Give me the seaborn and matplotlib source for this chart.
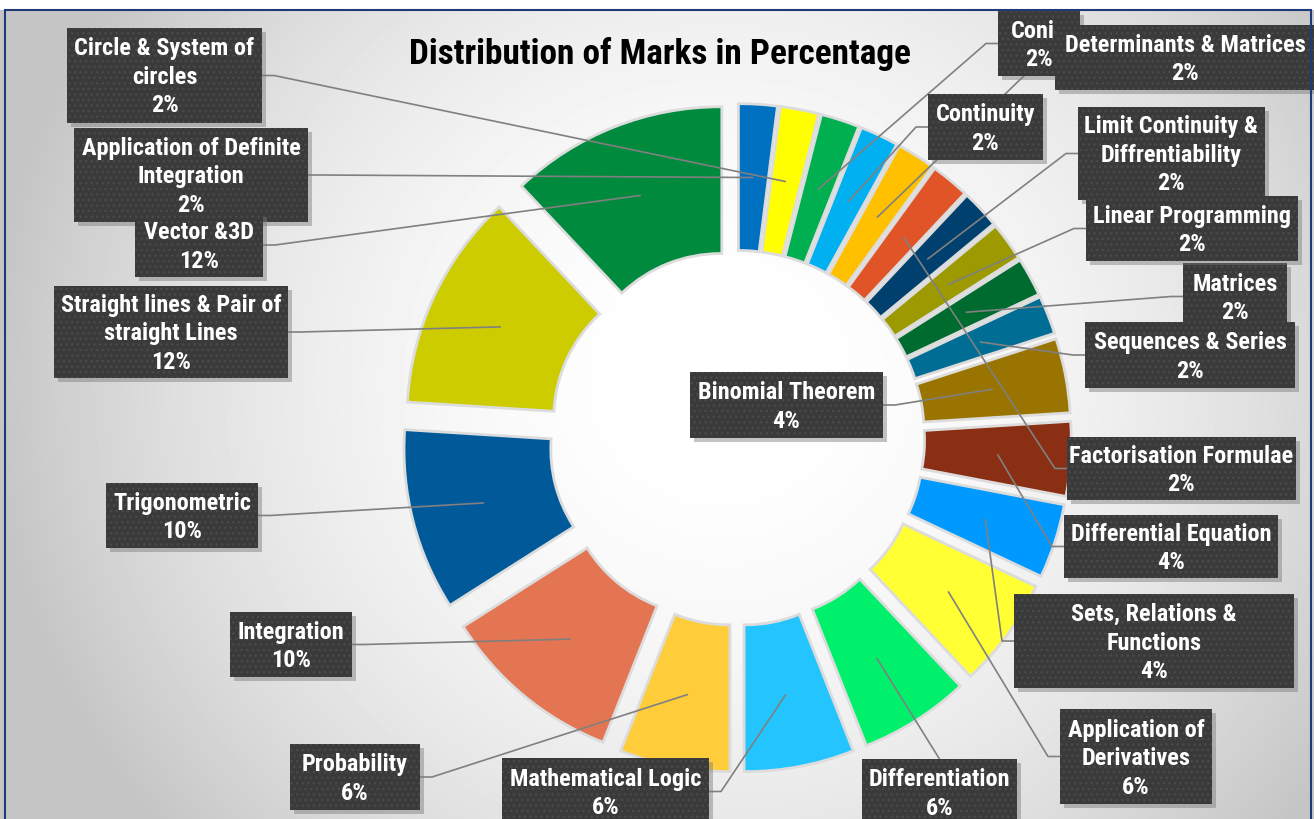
import numpy as np
import matplotlib
matplotlib.use("Agg")
import matplotlib.pyplot as plt
import matplotlib.patheffects as pe
from matplotlib import font_manager
from matplotlib.font_manager import FontProperties
from matplotlib.patches import Rectangle
import seaborn as sns

# slices, clockwise from 12 o'clock
topics = ["Application of Definite\nIntegration", "Circle & System of\ncircles", "Conic",
          "Continuity", "Determinants & Matrices", "Factorisation Formulae",
          "Limit Continuity &\nDiffrentiability", "Linear Programming", "Matrices",
          "Sequences & Series", "Binomial Theorem", "Differential Equation",
          "Sets, Relations &\nFunctions", "Application of\nDerivatives", "Differentiation",
          "Mathematical Logic", "Probability", "Integration", "Trigonometric",
          "Straight lines & Pair of\nstraight Lines", "Vector &3D"]
marks = [2, 2, 2, 2, 2, 2, 2, 2, 2, 2, 4, 4, 4, 6, 6, 6, 6, 10, 10, 12, 12]
slice_colors = ["#0070C0", "#FFFF00", "#00B050", "#00B0F0", "#FFC000", "#E05428",
                "#00406F", "#9C9A00", "#006B2F", "#006E94", "#9A7400", "#8A2E14",
                "#0099FF", "#FFFF33", "#00F06B", "#24C4FF", "#FFCC3A", "#E47552",
                "#005A9A", "#CCCC00", "#008A3E"]
title = "Distribution of Marks in Percentage"

# layout (image pixels)
W, H = 1314, 819
CX, CY, R_PX = 737, 438, 288
EXPLODE_PX = 45

# label box per slice: (x0, y0, x1, y1), side where the leader line attaches
boxes = {
    0: ((74, 128, 308, 222), "right"),
    1: ((67, 28, 262, 123), "right"),
    2: ((998, 11, 1080, 76), "left"),
    3: ((928, 94, 1043, 160), "left"),
    4: ((1055, 25, 1316, 90), "left"),
    5: ((1067, 437, 1296, 500), "left"),
    6: ((1078, 107, 1265, 200), "left"),
    7: ((1086, 196, 1298, 261), "left"),
    8: ((1183, 263, 1287, 330), "left"),
    9: ((1085, 322, 1295, 388), "left"),
    10: ((690, 372, 883, 438), "right"),
    11: ((1064, 515, 1278, 578), "left"),
    12: ((1014, 594, 1294, 688), "left"),
    13: ((1060, 709, 1212, 804), "left"),
    14: ((862, 759, 1017, 825), "top"),
    15: ((502, 758, 709, 825), "right"),
    16: ((290, 744, 420, 810), "right"),
    17: ((230, 612, 352, 677), "right"),
    18: ((106, 483, 258, 548), "right"),
    19: ((54, 286, 288, 378), "right"),
    20: ((135, 213, 263, 277), "right"),
}
draw_order = [1, 0, 20, 19, 18, 17, 16, 15, 14, 13, 12, 11, 5, 10, 8, 9, 6, 7, 3, 2, 4]


def dx(x):
    return (x - CX) / R_PX


def dy(y):
    return (CY - y) / R_PX


def pick_font():
    prefs = ["LiberationSansNarrow-Bold", "RobotoCondensed-Bold", "DejaVuSansCondensed-Bold"]
    files = [f.fname for f in font_manager.fontManager.ttflist]
    for p in prefs:
        for fn in files:
            if p.lower() in fn.lower().replace(" ", "") and "italic" not in fn.lower():
                return FontProperties(fname=fn)
    return FontProperties(family="Roboto", weight="bold")


sns.set_theme(style="white")
fig = plt.figure(figsize=(W / 100, H / 100), dpi=100)
ax = fig.add_axes([0, 0, 1, 1])
ax.set_axis_off()

# background: soft radial grey gradient
yy, xx = np.mgrid[0:H, 0:W]
dist = np.hypot(xx - 720, (yy - 380) * 1.05)
shade = np.clip(1 - 0.21 * (dist / 700) ** 2, 0.77, 1)
ax.imshow(shade, cmap="gray", vmin=0, vmax=1, origin="upper",
          extent=(dx(0), dx(W), dy(H), dy(0)), zorder=0, aspect="auto")

wedges, _ = ax.pie(marks, colors=slice_colors, startangle=90, counterclock=False,
                   radius=1.0, explode=[EXPLODE_PX / R_PX] * len(marks),
                   wedgeprops=dict(width=0.5, linewidth=0,
                                   path_effects=[pe.withStroke(linewidth=4, foreground="#dcdcdc")]))
for w in wedges:
    w.set_zorder(2)

ax.set_xlim(dx(0), dx(W))
ax.set_ylim(dy(H), dy(0))
ax.set_aspect("auto")

fp = pick_font()
renderer = fig.canvas.get_renderer()


def fit_size(text, target_px):
    t = fig.text(0, 0, text, fontproperties=fp, fontsize=10)
    w = t.get_window_extent(renderer).width
    t.remove()
    return 10 * target_px / w


label_size = fit_size("Determinants & Matrices", 240)
title_size = fit_size(title, 504)

# leader line anchors at mid ring of each exploded slice
frac = np.array(marks) / np.sum(marks)
mids = (np.cumsum(frac) - frac / 2) * 2 * np.pi
rho = EXPLODE_PX / R_PX + 0.75

for k, i in enumerate(draw_order):
    (x0, y0, x1, y1), side = boxes[i]
    ymid = (y0 + y1) / 2
    xmid = (x0 + x1) / 2
    ax_x, ax_y = rho * np.sin(mids[i]), rho * np.cos(mids[i])
    if side == "right":
        pts = [(dx(x1), dy(ymid)), (dx(x1 + 12), dy(ymid)), (ax_x, ax_y)]
    elif side == "left":
        pts = [(dx(x0), dy(ymid)), (dx(x0 - 12), dy(ymid)), (ax_x, ax_y)]
    else:
        pts = [(dx(xmid), dy(y0)), (ax_x, ax_y)]
    px, py = zip(*pts)
    ax.plot(px, py, color="#808080", lw=1.2, zorder=5, solid_capstyle="butt")

    z = 10 + 3 * k
    ax.add_patch(Rectangle((dx(x0 + 4), dy(y1 + 4)), (x1 - x0) / R_PX, (y1 - y0) / R_PX,
                           facecolor="#7a7a7a", alpha=0.45, linewidth=0, zorder=z))
    ax.add_patch(Rectangle((dx(x0), dy(y1)), (x1 - x0) / R_PX, (y1 - y0) / R_PX,
                           facecolor="#3a3a3a", edgecolor="#4a4a4a", hatch="...",
                           linewidth=0, zorder=z + 1))
    lines = topics[i].split("\n") + [f"{marks[i]}%"]
    n = len(lines)
    for j, s in enumerate(lines):
        ly = ymid + 2 + (j - (n - 1) / 2) * 28.5
        ax.text(dx(xmid), dy(ly), s, ha="center", va="center", color="white",
                fontproperties=fp, fontsize=label_size, zorder=z + 2, clip_on=True)

fig.text(660 / W, 1 - 54 / H, title, ha="center", va="center", color="black",
         fontproperties=fp, fontsize=title_size)

# white strip on top and thin navy frame
fig.add_artist(Rectangle((0, 1 - 10 / H), 1, 10 / H, transform=fig.transFigure,
                         facecolor="white", linewidth=0, zorder=50))
fig.add_artist(Rectangle((5 / W, -0.01), (1311 - 5) / W, (H - 10) / H + 0.01,
                         transform=fig.transFigure, fill=False, edgecolor="#1F3B77",
                         linewidth=1.5, zorder=51))

fig.savefig("out.png", dpi=100)
